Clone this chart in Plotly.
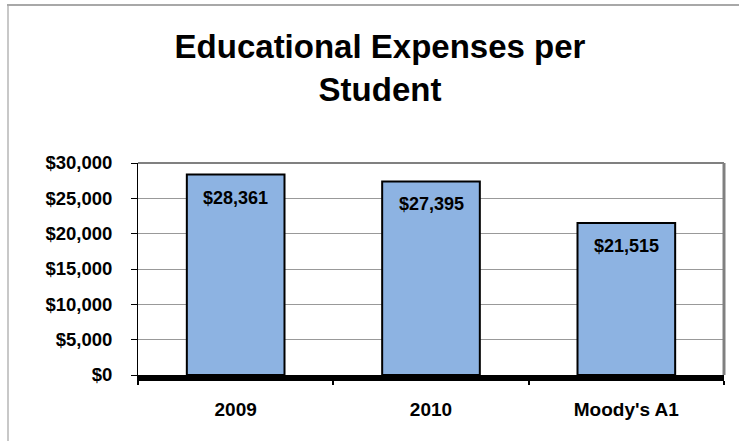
import plotly.graph_objects as go

categories = ["2009", "2010", "Moody's A1"]
values = [28361, 27395, 21515]
value_labels = ["$28,361", "$27,395", "$21,515"]
tick_vals = [0, 5000, 10000, 15000, 20000, 25000, 30000]
tick_text = ["$0", "$5,000", "$10,000", "$15,000", "$20,000", "$25,000", "$30,000"]

W, H = 739, 441
L, R, T, B = 138, 15, 163, 66
pw, ph = W - L - R, H - T - B

def px_x(x):
    return (x - L) / pw

def px_y(y):
    return 1 - (y - T) / ph

FONT = "Arial, Liberation Sans, sans-serif"

fig = go.Figure()
fig.add_trace(go.Bar(
    x=categories, y=values,
    text=value_labels, textposition="none",
    marker=dict(color="#8DB3E2", line=dict(color="black", width=2)),
    hoverinfo="skip",
))

for i, (v, t) in enumerate(zip(values, value_labels)):
    fig.add_annotation(x=i, y=v, xref="x", yref="y", text=t, showarrow=False,
                       yanchor="top", yshift=-11,
                       font=dict(family=FONT, size=18, color="black", weight="bold"))

shapes = [
    dict(type="line", xref="paper", yref="paper", x0=0, x1=1, y0=1, y1=1,
         line=dict(color="#808080", width=2)),
    dict(type="line", xref="paper", yref="paper", x0=1, x1=1, y0=0, y1=1,
         line=dict(color="#808080", width=3)),
    dict(type="line", xref="paper", yref="paper", x0=px_x(8), x1=px_x(8), y0=px_y(5), y1=px_y(460),
         line=dict(color="#c8c8c8", width=2)),
    dict(type="line", xref="paper", yref="paper", x0=px_x(7), x1=px_x(760), y0=px_y(5), y1=px_y(5),
         line=dict(color="#a8a8a8", width=2)),
]

fig.update_layout(
    width=W, height=H,
    margin=dict(l=L, r=R, t=T, b=B, pad=0, autoexpand=False),
    paper_bgcolor="white", plot_bgcolor="white",
    bargap=0.5,
    showlegend=False,
    title=dict(text="Educational Expenses per<br>Student",
               x=380 / W, xanchor="center",
               y=1 - 58 / H, yanchor="middle",
               font=dict(family=FONT, size=33, color="black", weight="bold")),
    xaxis=dict(
        type="category",
        categoryorder="array", categoryarray=categories,
        showline=True, linecolor="black", linewidth=6,
        ticks="outside", tickson="boundaries", ticklen=4, tickcolor="black", tickwidth=2,
        showgrid=False,
        tickfont=dict(family=FONT, size=19, color="black", weight="bold"),
        ticklabelstandoff=12,
        tickangle=0,
    ),
    yaxis=dict(
        range=[0, 30000],
        tickvals=tick_vals, ticktext=tick_text,
        showline=True, linecolor="black", linewidth=1,
        ticks="outside", ticklen=6, tickcolor="black",
        showgrid=True, gridcolor="#999999", gridwidth=1,
        zeroline=False,
        tickfont=dict(family=FONT, size=18.5, color="black", weight="bold"),
        ticklabelstandoff=15,
    ),
    shapes=shapes,
    font=dict(family=FONT),
)

fig.write_html("out.html", config={"displayModeBar": False},
               post_script="document.body.style.margin='0px';")
